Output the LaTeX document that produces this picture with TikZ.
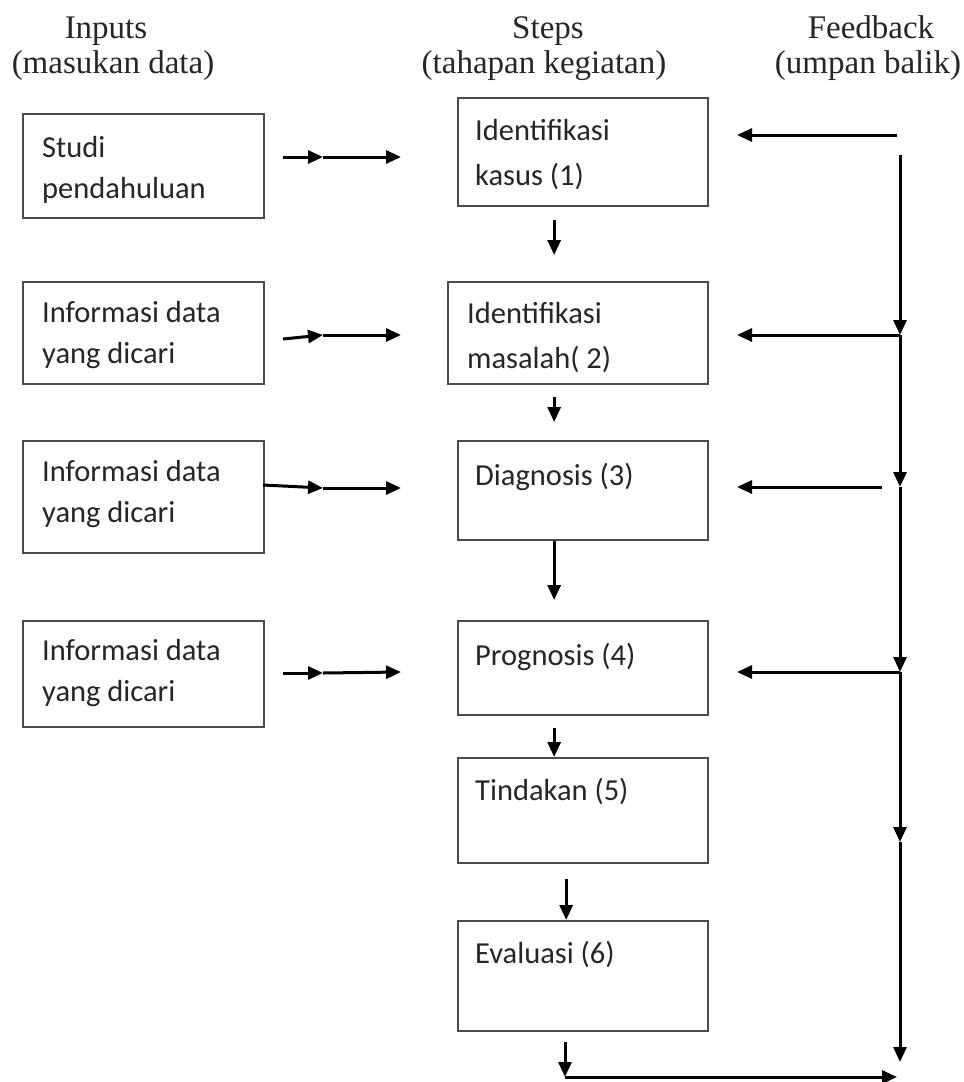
\documentclass[tikz,border=0pt]{standalone}
\usepackage{fontspec}
\setmainfont{Liberation Serif}
\newfontfamily\boxfont{Carlito}
\usetikzlibrary{arrows.meta}
\begin{document}
\begin{tikzpicture}[x=1pt,y=-1pt,
  hdr/.style={font=\fontsize{33}{38}\selectfont, text=black!85, inner sep=0, anchor=base},
  box/.style={draw=black!70, line width=2.3pt, anchor=north west, inner sep=0},
  txt/.style={font=\boxfont\fontsize{30.5}{41}\selectfont, text=black!85, inner sep=0, anchor=base west, align=left},
  stxt/.style={txt, font=\boxfont\fontsize{30.5}{45}\selectfont},
  arr/.style={draw=black, line width=3pt, -{Triangle[length=15pt,width=13pt]}}
  ]
\useasboundingbox (0,0) rectangle (964,1082);
\fill[white] (0,0) rectangle (964,1082);

% headers
\node[hdr] (h1)  at (106,38) {Inputs};
\node[hdr] (h1b) at (113,73) {(masukan data)};
\node[hdr] (h2)  at (548,38) {Steps};
\node[hdr] (h2b) at (544,73) {(tahapan kegiatan)};
\node[hdr] (h3)  at (871,38) {Feedback};
\node[hdr] (h3b) at (868,73) {(umpan balik)};

% input boxes
\node[box, minimum width=241, minimum height=104] (L1) at (22,113) {};
\node[box, minimum width=241, minimum height=102] (L2) at (22,281) {};
\node[box, minimum width=241, minimum height=112] (L3) at (22,440) {};
\node[box, minimum width=241, minimum height=106] (L4) at (22,620) {};
% anchor base = baseline of the last line
\node[txt] (L1t) at ([shift={(20,85)}]L1.north west) {Studi\\pendahuluan};
\node[txt] (L2t) at ([shift={(20,82)}]L2.north west) {Informasi data\\yang dicari};
\node[txt] (L3t) at ([shift={(20,82)}]L3.north west) {Informasi data\\yang dicari};
\node[txt] (L4t) at ([shift={(20,81)}]L4.north west) {Informasi data\\yang dicari};

% step boxes
\node[box, minimum width=250, minimum height=108] (S1) at (457,97) {};
\node[box, minimum width=260, minimum height=102] (S2) at (447,281) {};
\node[box, minimum width=250, minimum height=99]  (S3) at (457,440) {};
\node[box, minimum width=250, minimum height=94]  (S4) at (457,620) {};
\node[box, minimum width=250, minimum height=105] (S5) at (457,757) {};
\node[box, minimum width=250, minimum height=110] (S6) at (457,920) {};
\node[stxt] (S1t) at ([shift={(18,88)}]S1.north west) {Identifikasi\\kasus (1)};
\node[stxt] (S2t) at ([shift={(20,87)}]S2.north west) {Identifikasi\\masalah( 2)};
\node[stxt] (S3t) at ([shift={(18,45)}]S3.north west) {Diagnosis (3)};
\node[stxt] (S4t) at ([shift={(18,45)}]S4.north west) {Prognosis (4)};
\node[stxt] (S5t) at ([shift={(18,43)}]S5.north west) {Tindakan (5)};
\node[stxt] (S6t) at ([shift={(18,43)}]S6.north west) {Evaluasi (6)};

% input arrows (two-part)
\coordinate (a1) at (283,157); \coordinate (m1) at (323,157); \coordinate (b1) at (401,157);
\coordinate (a2) at (283,339); \coordinate (m2) at (323,335); \coordinate (b2) at (401,335);
\coordinate (a3) at (263,485); \coordinate (m3) at (323,488); \coordinate (b3) at (401,488);
\coordinate (a4) at (283,673); \coordinate (m4) at (323,673); \coordinate (b4) at (401,672);
\foreach \i in {1,2,3,4}{
  \draw[arr] (a\i) -- (m\i);
  \draw[arr] (m\i) -- (b\i);
}

% step arrows
\draw[arr, shorten <=13pt, shorten >=26pt] ([xshift=-29pt]S1.south) -- ([xshift=-29pt]S1.south |- S2.north);
\draw[arr, shorten <=12pt, shorten >=18pt] ([xshift=-29pt]S1.south |- S2.south) -- ([xshift=-29pt]S1.south |- S3.north);
\draw[arr, shorten >=20pt] ([xshift=-29pt]S3.south) -- ([xshift=-29pt]S3.south |- S4.north);
\draw[arr, shorten <=12pt] ([xshift=-29pt]S4.south) -- ([xshift=-29pt]S4.south |- S5.north);
\draw[arr, shorten <=15pt] ([xshift=-17pt]S5.south) -- ([xshift=-17pt]S5.south |- S6.north);
\coordinate (bend) at (565,1077);
\coordinate (bend0) at (565,1042);
\coordinate (fbend) at (897,1077);
\draw[arr] (bend0) -- (bend);
\draw[arr] (bend) -- (fbend);

% feedback
\coordinate (f1a) at (897,135); \coordinate (f1b) at (737,135);
\coordinate (f0) at (900,155);
\coordinate (f2) at (900,335); \coordinate (f2b) at (737,335);
\coordinate (f3) at (900,487); \coordinate (f3a) at (882,487); \coordinate (f3b) at (737,487);
\coordinate (f4) at (900,672); \coordinate (f4b) at (737,672);
\coordinate (f5) at (900,842);
\coordinate (f6) at (900,1062);
\draw[arr] (f1a) -- (f1b);
\draw[arr] (f2) -- (f2b);
\draw[arr] (f3a) -- (f3b);
\draw[arr] (f4) -- (f4b);
\draw[arr] (f0) -- (f2);
\draw[arr] (f2) -- (f3);
\draw[arr] (f3) -- (f4);
\draw[arr] (f4) -- (f5);
\draw[arr] (f5) -- (f6);
\end{tikzpicture}
\end{document}
